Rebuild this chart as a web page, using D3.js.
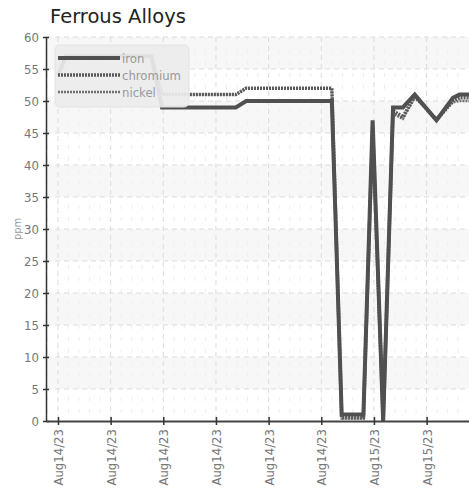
<!DOCTYPE html>
<html><head><meta charset="utf-8">
<script src="https://cdn.jsdelivr.net/npm/d3@7"></script>
<style>
html,body{margin:0;padding:0;background:#fff;}
svg{display:block;}
</style></head>
<body>
<svg id="chart" width="469" height="490"></svg>
<script>
// ---- data (time in hours after Aug 14 2023 00:00) ----
const seriesNames = ["iron", "chromium", "nickel"];
const ironT   = [0, 0.6, 7.1, 7.9, 13.5, 14.3, 20.8, 21.55, 23.2, 23.9, 24.7, 25.45, 26.2, 27.1, 28.75, 30.0, 30.5, 31.3];
const ironV   = [54, 57, 57, 49, 49, 50, 50, 1, 1, 47, 0, 49, 49, 51, 47, 50.5, 51, 51];
const chromT  = [0, 0.6, 7.1, 7.9, 13.5, 14.3, 20.8, 21.55, 23.2, 23.9, 24.7, 25.45, 26.2, 27.1, 28.75, 30.0, 30.5, 31.3];
const chromV  = [54, 57, 57, 51, 51, 52, 52, 0.5, 0.5, 46, 0, 48.5, 47.5, 50.8, 47, 50, 50.5, 50.5];
const nickelT = [0, 0.6, 7.1, 7.9, 13.5, 14.3, 20.8, 21.55, 23.2, 23.9, 24.7, 25.45, 26.2, 27.1, 28.75, 30.0, 30.5, 31.3];
const nickelV = [54, 57, 57, 51, 51, 52, 52, 0.4, 0.4, 46.5, 0, 48, 47.2, 50.5, 47.3, 49.8, 50, 50];
const xTickHours  = [0, 4, 8, 12, 16, 20, 24, 28];
const xTickLabels = ["Aug14/23","Aug14/23","Aug14/23","Aug14/23","Aug14/23","Aug14/23","Aug15/23","Aug15/23"];
const yTicks = [0,5,10,15,20,25,30,35,40,45,50,55,60];
const title = "Ferrous Alloys";
const yLabel = "ppm";

// ---- layout ----
const svg = d3.select("#chart");
const pL = 46, pR = 469, pT = 37, pB = 421;
const x = d3.scaleLinear().domain([-0.91, 31.22]).range([pL, pR]);
const y = d3.scaleLinear().domain([0, 60]).range([pB, pT]);
const narrow = "'Liberation Sans Narrow','DejaVu Sans Condensed',sans-serif";

// title
svg.append("text").attr("x", 50).attr("y", 23)
  .attr("font-family", "'DejaVu Sans',sans-serif")
  .attr("font-size", 19.5).attr("fill", "#222").text(title);

const g = svg.append("g");

// bands
const bandStarts = yTicks.filter(v => v < 60 && (v / 5) % 2 === 1);
g.selectAll("rect.band").data(bandStarts).enter().append("rect")
  .attr("x", pL).attr("width", pR - pL)
  .attr("y", d => y(d + 5)).attr("height", d => y(d) - y(d + 5))
  .attr("fill", "#f7f7f7");

// minor vertical gridlines
const minor = [];
for (let h = -0.8; h <= 31.2; h += 0.8) { if (Math.abs(Math.round(h/4)*4 - h) > 0.1) minor.push(h); }
g.selectAll("line.minor").data(minor).enter().append("line")
  .attr("x1", d => x(d)).attr("x2", d => x(d)).attr("y1", pT).attr("y2", pB)
  .attr("stroke", "#eeeeee").attr("stroke-width", 1).attr("stroke-dasharray", "4,8");

// major horizontal gridlines
g.selectAll("line.hg").data(yTicks.filter(v => v > 0)).enter().append("line")
  .attr("x1", pL).attr("x2", pR).attr("y1", d => y(d)).attr("y2", d => y(d))
  .attr("stroke", "#dcdcdc").attr("stroke-width", 1).attr("stroke-dasharray", "5,4");

// major vertical gridlines
g.selectAll("line.vg").data(xTickHours).enter().append("line")
  .attr("x1", d => x(d)).attr("x2", d => x(d)).attr("y1", pT).attr("y2", pB)
  .attr("stroke", "#dcdcdc").attr("stroke-width", 1).attr("stroke-dasharray", "5,4");

// lines
const line = d3.line().x(d => x(d[0])).y(d => y(d[1]));
const zip = (t, v) => t.map((tt, i) => [tt, v[i]]);
const seriesData = [zip(ironT, ironV), zip(chromT, chromV), zip(nickelT, nickelV)];
const styles = [
  {stroke: "#505050", width: 4, dash: null},
  {stroke: "#5a5a5a", width: 3.5, dash: "2,1"},
  {stroke: "#707070", width: 2.5, dash: "2,1"}
];
svg.append("clipPath").attr("id", "clip").append("rect")
  .attr("x", pL).attr("y", pT - 5).attr("width", pR - pL).attr("height", pB - pT + 10);
const lg = svg.append("g").attr("clip-path", "url(#clip)");
[2, 1, 0].forEach(i => {
  lg.append("path").datum(seriesData[i]).attr("d", line)
    .attr("fill", "none").attr("stroke", styles[i].stroke)
    .attr("stroke-width", styles[i].width)
    .attr("stroke-dasharray", styles[i].dash)
    .attr("stroke-linejoin", "miter");
});

// y axis
const yAxis = d3.axisLeft(y).tickValues(yTicks).tickSize(0).tickPadding(7);
const ya = svg.append("g").attr("transform", `translate(${pL},0)`).call(yAxis);
ya.select(".domain").attr("stroke", "#333").attr("stroke-width", 1.5);
ya.selectAll(".tick text").attr("font-family", narrow).attr("font-size", 13).attr("fill", "#777");
ya.selectAll(".tick").append("line").attr("x1", -3).attr("x2", 3).attr("stroke", "#333").attr("stroke-width", 1.5);

svg.append("text").attr("transform", `translate(21,${(pT + pB) / 2}) rotate(-90)`)
  .attr("text-anchor", "middle").attr("font-family", narrow).attr("font-size", 11)
  .attr("fill", "#999").text(yLabel);

// x axis
const xAxis = d3.axisBottom(x).tickValues(xTickHours).tickSize(0)
  .tickFormat((d, i) => xTickLabels[i]);
const xa = svg.append("g").attr("transform", `translate(0,${pB})`).call(xAxis);
xa.select(".domain").attr("stroke", "#444").attr("stroke-width", 2);
xa.selectAll(".tick line").remove();
xa.selectAll(".tick").append("line").attr("y1", -4).attr("y2", 4).attr("stroke", "#333").attr("stroke-width", 1.5);
xa.selectAll(".tick text")
  .attr("font-family", narrow).attr("font-size", 13).attr("fill", "#777")
  .attr("text-anchor", "end").attr("dy", "0.35em")
  .attr("transform", "translate(0,8) rotate(-90)").attr("x", 0).attr("y", 0);

// legend (drawn on top of the data lines)
const leg = svg.append("g").attr("class", "legend");
leg.append("rect").attr("x", 55).attr("y", 45).attr("width", 134).attr("height", 62)
  .attr("rx", 5).attr("ry", 5)
  .style("fill", "rgb(236,236,236)").style("fill-opacity", 0.93)
  .style("stroke", "#e2e2e2").style("stroke-width", 1);
seriesNames.forEach((n, i) => {
  const yy = 58 + i * 17;
  leg.append("line").attr("x1", 58).attr("x2", 120).attr("y1", yy).attr("y2", yy)
    .attr("stroke", styles[i].stroke).attr("stroke-width", styles[i].width)
    .attr("stroke-dasharray", styles[i].dash);
  leg.append("text").attr("x", 122).attr("y", yy).attr("dy", "0.35em")
    .attr("font-family", narrow).attr("font-size", 13).attr("fill", "#999").text(n);
});
</script>
</body></html>
